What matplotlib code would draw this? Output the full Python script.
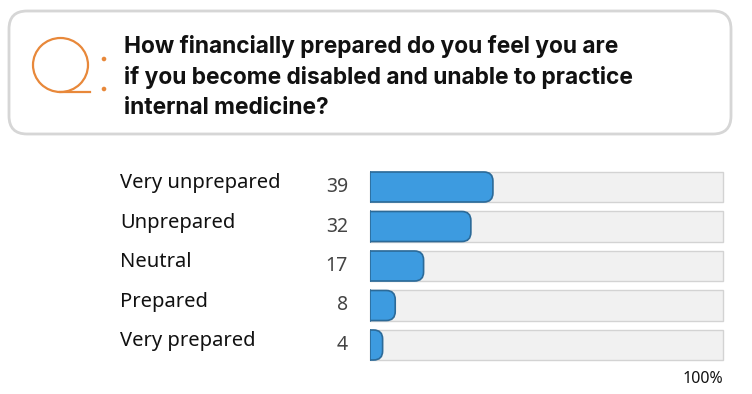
import matplotlib
matplotlib.use('agg')
import matplotlib.pyplot as plt
from matplotlib.patches import FancyBboxPatch, Rectangle, Ellipse, Circle
from matplotlib.lines import Line2D
from matplotlib.transforms import blended_transform_factory

plt.rcParams['font.family'] = ['Noto Sans', 'DejaVu Sans']

question = ["How financially prepared do you feel you are",
            "if you become disabled and unable to practice",
            "internal medicine?"]
categories = ["Very unprepared", "Unprepared", "Neutral", "Prepared", "Very prepared"]
values = [39, 32, 17, 8, 4]
scale_max = 112

W, H = 752, 394
fig = plt.figure(figsize=(W / 100, H / 100), dpi=100)

# header panel drawn in pixel coordinates
bg = fig.add_axes([0, 0, 1, 1])
bg.set_xlim(0, W)
bg.set_ylim(H, 0)
bg.axis('off')
bg.add_patch(FancyBboxPatch((9, 11), 722, 123, boxstyle="round,pad=0,rounding_size=18",
                            facecolor='white', edgecolor='#d6d6d6', lw=2))
orange = '#e8883a'
bg.add_patch(Ellipse((60.5, 65), 55, 54, facecolor='none', edgecolor=orange, lw=1.6))
bg.add_line(Line2D([60, 90], [92, 92], color=orange, lw=1.6))
bg.add_patch(Circle((104, 59), 1.6, color=orange))
bg.add_patch(Circle((104, 89), 1.6, color=orange))
for i, line in enumerate(question):
    bg.text(124, 46 + i * 31, line, fontsize=16.4, fontweight='bold', color='#111111',
            va='center', ha='left', family=['Inter', 'DejaVu Sans'])

# bar panel
ax = fig.add_axes([370 / W, 29.25 / H, 353 / W, 197.5 / H])
ax.set_xlim(0, scale_max)
ax.set_ylim(len(values) - 0.5, -0.5)
ax.axis('off')
ypos = list(range(len(values)))
h = 0.76
ax.barh(ypos, [scale_max] * len(values), height=h, left=0, color='#f1f1f1',
        edgecolor='#d3d3d3', lw=1, clip_on=False)
bars = ax.barh(ypos, values, height=h, color='none', edgecolor='none')

# rounded right end for each value bar, square left end
xpx = 353 / scale_max
ypx = 197.5 / len(values)
r = 9 / xpx
asp = (1 / ypx) / (1 / xpx)
blue, dark = '#3d9be0', '#2c6a98'
for b in bars:
    x0, y0, w, hh = b.get_x(), b.get_y(), b.get_width(), b.get_height()
    p = FancyBboxPatch((x0 - r, y0), w + r, hh, boxstyle="round,pad=0,rounding_size=%f" % r,
                       mutation_aspect=asp, facecolor=blue, edgecolor=dark, lw=1.2)
    ax.add_patch(p)
    clip = Rectangle((x0, y0 - 0.1), w + 2, hh + 0.2, transform=ax.transData)
    p.set_clip_path(clip)
    ax.add_line(Line2D([x0, x0], [y0, y0 + hh], color=dark, lw=1.2))

tr = blended_transform_factory(fig.transFigure, ax.transData)
for y, cat, v in zip(ypos, categories, values):
    ax.text(120 / W, y - 0.1, cat, transform=tr, fontsize=14.5, fontweight='medium',
            color='#111111', ha='left', va='center')
    ax.text(348 / W, y, str(v), transform=tr, fontsize=14, color='#444444',
            ha='right', va='center')
ax.text(1, -0.07, "100%", transform=ax.transAxes, fontsize=11.5, color='#111111',
        ha='right', va='center')

fig.savefig('out.png', dpi=100, facecolor='white')
